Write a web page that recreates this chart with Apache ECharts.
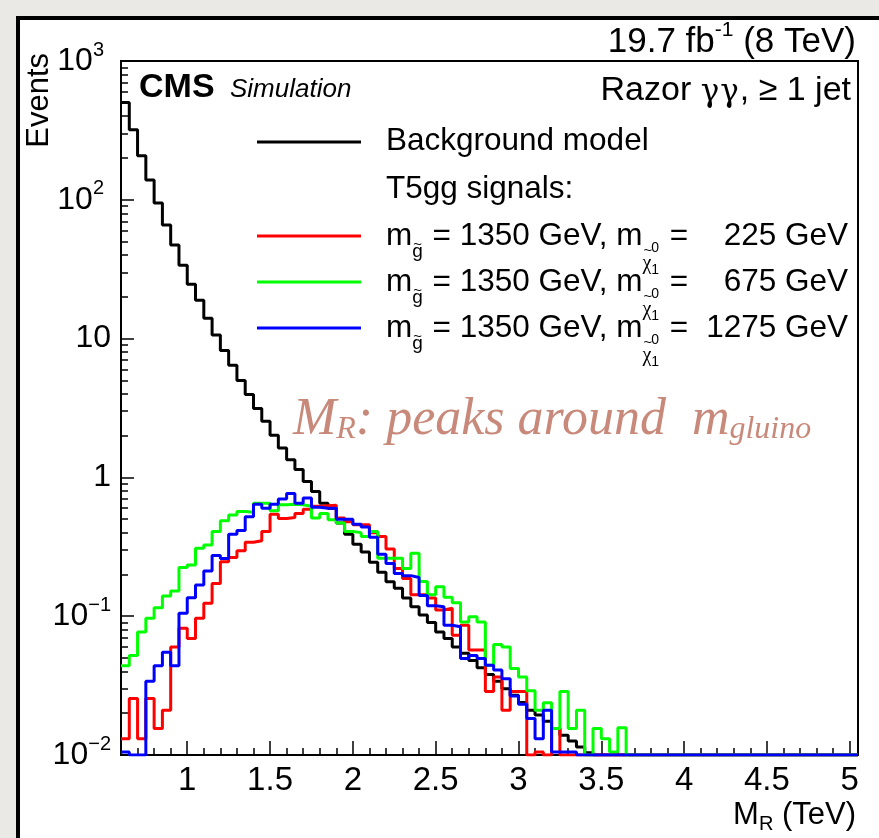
<!DOCTYPE html>
<html>
<head>
<meta charset="utf-8">
<script src="https://cdn.jsdelivr.net/npm/echarts@6.0.0/dist/echarts.min.js"></script>
<style>
html,body{margin:0;padding:0;background:#ebe9e6;overflow:hidden;}
#chart{width:879px;height:838px;}
</style>
</head>
<body>
<div id="chart"></div>
<script>
// ---------------- data ----------------
const X_MIN = 0.6;          // first bin low edge (TeV)
const X_MAX = 5.05;         // axis end (TeV)
const BIN_WIDTH = 0.05;     // TeV
const N_BINS = 89;
const Y_MIN = 0.01, Y_MAX = 1000;

const xTickLabels = [1, 1.5, 2, 2.5, 3, 3.5, 4, 4.5, 5];
const xMinorTicks = [0.7,0.8,0.9,1.1,1.2,1.3,1.4,1.6,1.7,1.8,1.9,2.1,2.2,2.3,2.4,2.6,2.7,2.8,2.9,
  3.1,3.2,3.3,3.4,3.6,3.7,3.8,3.9,4.1,4.2,4.3,4.4,4.6,4.7,4.8,4.9,5.0];
const yDecades = [0.01, 0.1, 1, 10, 100, 1000];
const yDecadeBase = ['10', '10', '1', '10', '10', '10'];
const yDecadeExp  = ['\u22122', '\u22121', '', '', '2', '3'];
const yMinorTicks = [0.02,0.03,0.04,0.05,0.06,0.07,0.08,0.09,0.2,0.3,0.4,0.5,0.6,0.7,0.8,0.9,
  2,3,4,5,6,7,8,9,20,30,40,50,60,70,80,90,200,300,400,500,600,700,800,900];

// Events per 0.05 TeV bin, starting at 0.6 TeV (bins not listed are empty)
const background = [503,320,208,139,94.7,65.9,47.3,33.8,24.6,18.9,14.0,10.6,8.22,6.44,4.99,3.95,3.13,2.54,2.01,1.63,
  1.34,1.14,0.935,0.79,0.65,0.60,0.47,0.39,0.33,0.29,0.245,0.207,0.177,0.159,0.135,0.117,0.102,0.090,0.077,0.069,
  0.060,0.054,0.048,0.0425,0.038,0.034,0.030,0.027,0.0239,0.021,0.0194,0.0175,0.0155,0.0139,0.0126,0.0114,0.0104,0.0098];
const sigLowLSP = [0.0131,0.0255,0.0131,0.0255,0.0155,0.021,0.06,0.082,0.069,0.0965,0.124,0.172,0.247,0.265,0.296,0.341,0.35,0.407,0.543,0.505,
  0.515,0.55,0.59,0.62,0.625,0.63,0.51,0.48,0.455,0.455,0.40,0.375,0.305,0.221,0.187,0.143,0.143,0.135,0.111,0.114,
  0.073,0.086,0.057,0.057,0.0287,0.0365,0.021,0.0287,0.0287,0,0.0105,0,0.0155];
const sigMidLSP = [0.044,0.052,0.077,0.0965,0.115,0.14,0.152,0.224,0.234,0.309,0.326,0.407,0.487,0.537,0.568,0.56,0.65,0.65,0.575,0.635,
  0.64,0.635,0.62,0.51,0.55,0.495,0.47,0.407,0.40,0.375,0.407,0.262,0.262,0.262,0.221,0.284,0.178,0.143,0.163,0.137,
  0.125,0.091,0.099,0.091,0.0444,0.0625,0.060,0.042,0.0365,0.029,0.021,0.0238,0.0155,0.0287,0.0155,0.021,0,0.0155,0.0131,0.0105,
  0.0157];
const sigHighLSP = [0.0105,0,0,0.034,0.044,0.055,0.044,0.105,0.136,0.168,0.212,0.274,0.26,0.39,0.415,0.52,0.64,0.60,0.64,0.70,
  0.765,0.65,0.71,0.61,0.60,0.60,0.50,0.50,0.46,0.44,0.37,0.28,0.24,0.203,0.196,0.19,0.141,0.119,0.117,0.086,
  0.084,0.0496,0.052,0.0496,0.0444,0.041,0.0355,0.0266,0.0232,0.0183,0.0131,0.021,0.0105,0.0105,0.0105];

const seriesNames = ['Background model', 'm1350_225', 'm1350_675', 'm1350_1275'];
const seriesColors = ['#000000', '#ff0000', '#00ff00', '#0000ff'];
const lspMasses = ['225', '675', '1275'];

// ---------------- helpers ----------------
function histData(vals) {
  const full = vals.slice();
  while (full.length < N_BINS) full.push(0);
  const d = full.map((v, i) => [+(X_MIN + i * BIN_WIDTH).toFixed(4), Math.max(v, Y_MIN)]);
  d.push([X_MAX, Math.max(full[full.length - 1], Y_MIN)]);
  return d;
}
const SANS = '"Liberation Sans", Arial, Helvetica, sans-serif';
const SERIF = '"Liberation Serif", "Times New Roman", serif';
const DSERIF = '"DejaVu Serif", "Liberation Serif", serif';
const mctx = document.createElement('canvas').getContext('2d');
function tw(t, size, fam, weight, style) {
  mctx.font = (style || 'normal') + ' ' + (weight || 'normal') + ' ' + size + 'px ' + (fam || SANS);
  return mctx.measureText(t).width;
}
function T(x, y, text, size, o) {
  o = o || {};
  return {
    type: 'text', x: x, y: y, rotation: o.rot || 0, z: 100, silent: true,
    style: {
      text: text, fontSize: size, fontFamily: o.fam || SANS, fontWeight: o.weight || 'normal',
      fontStyle: o.style || 'normal', fill: o.color || '#000',
      align: o.align || 'left', verticalAlign: 'middle',
      textAlign: o.align || 'left', textVerticalAlign: 'middle'
    }
  };
}
// sequential run of parts; part: {t,size,dy,fam,weight,style,stack(no advance), dx, gap}
function run(x, y, parts, alignRight, color) {
  let total = 0;
  parts.forEach(p => { if (!p.stack) total += tw(p.t, p.size, p.fam, p.weight, p.style) + (p.gap || 0); });
  let cx = alignRight ? x - total : x;
  const els = [];
  parts.forEach(p => {
    els.push(T(cx + (p.dx || 0), y + (p.dy || 0), p.t, p.size, {fam: p.fam, weight: p.weight, style: p.style, color: color}));
    if (!p.stack) cx += tw(p.t, p.size, p.fam, p.weight, p.style) + (p.gap || 0);
  });
  return {els: els, end: cx};
}

// ---------------- graphics (texts) ----------------
const F = 31.5;
const graphics = [];
// page background / frame of the photo
graphics.push({type: 'rect', z: -10, silent: true, shape: {x: 0, y: 0, width: 879, height: 838}, style: {fill: '#ebe9e6'}});
graphics.push({type: 'rect', z: -9, silent: true, shape: {x: 18, y: 18, width: 900, height: 900}, style: {fill: '#ffffff', stroke: '#000', lineWidth: 4}});

graphics.push(...run(856, 42, [{t: '19.7 fb', size: 35}, {t: '-1', size: 21, dy: -12}, {t: ' (8 TeV)', size: 35}], true).els);
graphics.push(T(139, 88, 'CMS', 34, {weight: 'bold'}));
graphics.push(T(230, 90, 'Simulation', 26, {style: 'italic'}));
graphics.push(...run(851, 91, [
  {t: 'Razor ', size: 34},
  {t: '\u03b3', size: 31, fam: DSERIF, gap: 1, dy: 2},
  {t: '\u03b3', size: 31, fam: DSERIF, gap: 1, dy: 2},
  {t: ', \u2265 1 jet', size: 34}], true).els);

// Events (y title)
graphics.push(T(39, 53, 'Events', 31, {rot: Math.PI / 2, align: 'right'}));
// x title
graphics.push(...run(856, 815, [{t: 'M', size: 31}, {t: 'R', size: 20, dy: 9}, {t: ' (TeV)', size: 31}], true).els);

// legend
const legY = [142, 236, 282, 328];
legY.forEach((y, i) => {
  graphics.push({type: 'line', z: 100, silent: true, shape: {x1: 257, y1: y, x2: 361, y2: y}, style: {stroke: seriesColors[i], lineWidth: 3}});
});
graphics.push(T(386, 141, seriesNames[0], F));
graphics.push(T(386, 189, 'T5gg signals:', F));
for (let i = 0; i < 3; i++) {
  const y = legY[i + 1];
  const r = run(386, y, [
    {t: 'm', size: F},
    {t: '~', size: 15, dy: 9, stack: true, dx: 1},
    {t: 'g', size: 19, dy: 16, gap: 1},
    {t: ' = 1350 GeV, m', size: F},
    {t: '~', size: 15, dy: 15, stack: true, dx: 1},
    {t: '\u03c7', size: 20, dy: 28, fam: SERIF},
    {t: '0', size: 14, dy: 12, stack: true},
    {t: '1', size: 14, dy: 34, gap: 2},
    {t: ' =', size: F}
  ], false);
  graphics.push(...r.els);
  graphics.push(...run(848, y, [{t: lspMasses[i] + ' GeV', size: F}], true).els);
}

// annotation
(function () {
  const col = '#c8897a';
  const r = run(293, 420, [
    {t: 'M', size: 52, fam: SERIF, style: 'italic'},
    {t: 'R', size: 32, dy: 10, fam: SERIF, style: 'italic'},
    {t: ': peaks around  m', size: 52, fam: SERIF, style: 'italic'},
    {t: 'gluino', size: 32, dy: 10, fam: SERIF, style: 'italic'}
  ], false, col);
  graphics.push(...r.els);
})();

// ---------------- chart ----------------
const chart = echarts.init(document.getElementById('chart'), null, {renderer: 'canvas'});
const dataSets = [background, sigLowLSP, sigMidLSP, sigHighLSP];
const option = {
  animation: false,
  backgroundColor: 'transparent',
  grid: {left: 121, top: 61, right: 21, bottom: 83, show: true, borderColor: '#000', borderWidth: 2, backgroundColor: 'transparent', containLabel: false},
  xAxis: [
    {type: 'value', min: X_MIN, max: X_MAX, position: 'bottom',
      axisLine: {show: true, onZero: false, lineStyle: {color: '#000', width: 2}},
      axisTick: {show: true, inside: true, length: 14, lineStyle: {color: '#000', width: 1.5}, customValues: xTickLabels},
      axisLabel: {show: true, customValues: xTickLabels, color: '#000', fontSize: 33, fontFamily: SANS, margin: 9,
        formatter: v => String(v)},
      splitLine: {show: false}},
    {type: 'value', min: X_MIN, max: X_MAX, position: 'bottom',
      axisLine: {show: false, onZero: false},
      axisTick: {show: true, inside: true, length: 7, lineStyle: {color: '#000', width: 1.5}, customValues: xMinorTicks},
      axisLabel: {show: false}, splitLine: {show: false}}
  ],
  yAxis: [
    {type: 'log', logBase: 10, min: Y_MIN, max: Y_MAX, position: 'left',
      axisLine: {show: true, onZero: false, lineStyle: {color: '#000', width: 2}},
      axisTick: {show: true, inside: true, length: 13, lineStyle: {color: '#000', width: 1.5}, customValues: yDecades},
      axisLabel: {show: true, customValues: yDecades, margin: 10, color: '#000', fontSize: 32, fontFamily: SANS, lineHeight: 42,
        formatter: v => {
          const i = yDecades.findIndex(d => Math.abs(Math.log10(d) - Math.log10(v)) < 1e-6);
          if (i < 0) return '';
          const e = yDecadeExp[i];
          if (!e) return yDecadeBase[i];
          return yDecadeBase[i] + '{sup|' + e + '}' + (e.length === 1 ? '{pad| }' : '');
        },
        rich: {
          sup: {fontSize: 20, fontFamily: SANS, color: '#000', lineHeight: 18, verticalAlign: 'top'},
          pad: {width: 7, fontSize: 7}
        }},
      splitLine: {show: false}},
    {type: 'log', logBase: 10, min: Y_MIN, max: Y_MAX, position: 'left',
      axisLine: {show: false, onZero: false},
      axisTick: {show: true, inside: true, length: 7, lineStyle: {color: '#000', width: 1.5}, customValues: yMinorTicks},
      axisLabel: {show: false}, splitLine: {show: false}}
  ],
  series: dataSets.map((vals, i) => ({
    name: seriesNames[i], type: 'line', step: 'end', xAxisIndex: 0, yAxisIndex: 0,
    data: histData(vals), showSymbol: false, symbol: 'none', clip: true, z: 10 + i,
    lineStyle: {color: seriesColors[i], width: 3}, itemStyle: {color: seriesColors[i]}
  })),
  graphic: {elements: graphics}
};
chart.setOption(option);
</script>
</body>
</html>
